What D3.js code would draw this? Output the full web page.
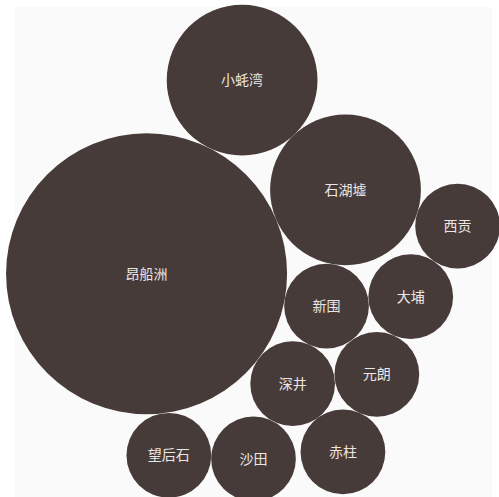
<!DOCTYPE html>
<html>
<head>
<meta charset="utf-8">
<script src="https://cdn.jsdelivr.net/npm/d3@7"></script>
<style>
  body { margin: 0; background: #fff; }
  text { font-family: "Noto Sans CJK SC", "Noto Sans", sans-serif; }
</style>
</head>
<body>
<div id="chart"></div>
<script>
// station names and their values (order = order round the starting ring)
const stations = ["昂船洲", "小蚝湾", "石湖墟", "西贡", "新围", "大埔", "元朗", "赤柱", "沙田", "深井", "望后石"];
const values = [33, 9.5, 9.5, 3, 3, 3, 3, 3, 3, 3, 3];

// svg setup
let svgWidth = 499;
let svgHeight = 497;
let panel = { left: 15, top: 7, right: 7, bottom: 0 };
let width = svgWidth - panel.left - panel.right;
let height = svgHeight - panel.top - panel.bottom;

let svg = d3.select("#chart")
    .append("svg")
    .attr("width", svgWidth)
    .attr("height", svgHeight);

// light panel behind the bubbles
svg.append("rect")
    .attr("x", panel.left)
    .attr("y", panel.top)
    .attr("width", width)
    .attr("height", height)
    .attr("fill", "#fafafa");

// radius scale, area proportional to value
let rScale = d3.scaleSqrt()
    .domain([0, d3.max(values)])
    .range([0, 140.5]);

let nodes = stations.map((name, i) => ({ name: name, value: values[i], r: rScale(values[i]) }));

// start the bubbles on a ring, each getting an arc in proportion to its radius
let totalR = d3.sum(nodes, d => d.r);
let ringR = 600;
let angle = 190 * Math.PI / 180;
nodes.forEach((d, i) => {
    let span = d.r / totalR * 2 * Math.PI;
    if (i > 0) angle += span / 2;
    d.x = ringR * Math.cos(angle);
    d.y = ringR * Math.sin(angle);
    angle += span / 2;
});

// let the ring close in on the centre, bubbles pushing each other apart
let sim = d3.forceSimulation(nodes)
    .velocityDecay(0.4)
    .force("x", d3.forceX(0).strength(0.05))
    .force("y", d3.forceY(0).strength(0.05))
    .force("collide", d3.forceCollide(d => d.r))
    .stop();
for (let i = 0; i < 300; i++) sim.tick();

// centre the cluster inside the panel
let x0 = d3.min(nodes, d => d.x - d.r), x1 = d3.max(nodes, d => d.x + d.r);
let y0 = d3.min(nodes, d => d.y - d.r), y1 = d3.max(nodes, d => d.y + d.r);
let dx = 253 - (x0 + x1) / 2;
let dy = 253 - (y0 + y1) / 2;

let g = svg.append("g")
    .attr("transform", `translate(${dx},${dy})`);

let bubble = g.selectAll("g.bubble")
    .data(nodes)
    .enter()
    .append("g")
    .attr("class", "bubble")
    .attr("transform", d => `translate(${d.x},${d.y})`);

bubble.append("circle")
    .attr("r", d => d.r)
    .attr("fill", "#473b39");

bubble.append("text")
    .text(d => d.name)
    .attr("text-anchor", "middle")
    .attr("dy", "0.35em")
    .attr("fill", "#ebe6e4")
    .attr("font-size", "14px");
</script>
</body>
</html>
